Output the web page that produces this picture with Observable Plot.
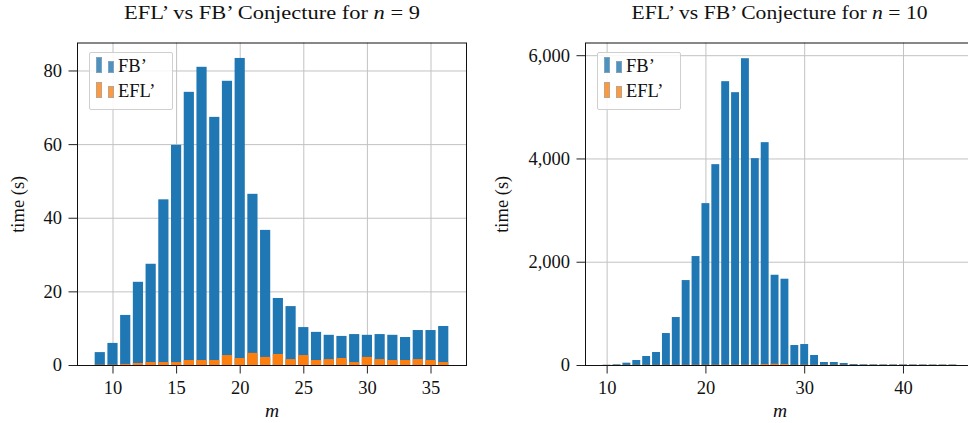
<!DOCTYPE html>
<html>
<head>
<meta charset="utf-8">
<script src="https://cdn.jsdelivr.net/npm/d3@7"></script>
<script src="https://cdn.jsdelivr.net/npm/@observablehq/plot@0.6"></script>
<style>
html, body { margin: 0; padding: 0; background: #fff; }
#wrap { position: relative; width: 968px; height: 423px; overflow: hidden; font-family: "Liberation Serif", serif; color: #111; }
#wrap svg, #wrap svg text { font-family: "Liberation Serif", serif !important; }
.panel { position: absolute; top: 0; max-width: none !important; }
.title { position: absolute; top: 3px; font-size: 18.5px; white-space: nowrap; transform-origin: center; }
.legend { position: absolute; border: 1px solid #cfcfcf; border-radius: 2px; background: rgba(255,255,255,0.85); box-sizing: border-box; }
.hd { position: absolute; box-sizing: border-box; border: 1px solid rgba(160,170,180,0.7); }
.lt { position: absolute; font-size: 18.5px; line-height: 1; white-space: nowrap; }
</style>
</head>
<body>
<div id="wrap"></div>
<script>
// ---- data: n = 9 ----
const m9 = [9,10,11,12,13,14,15,16,17,18,19,20,21,22,23,24,25,26,27,28,29,30,31,32,33,34,35,36];
const fb9 = [3.5,6.0,13.6,22.6,27.5,45.0,59.8,74.2,81.0,67.4,77.2,83.4,46.5,36.7,18.2,16.0,10.3,9.0,8.2,7.9,8.4,8.2,8.4,8.2,7.6,9.5,9.5,10.6];
const efl9 = [0.1,0.1,0.3,0.55,0.8,0.8,0.8,1.35,1.35,1.35,2.7,1.9,3.3,2.2,3.0,1.6,2.7,1.35,1.6,1.9,0.8,2.2,1.6,1.35,1.35,1.6,1.35,0.8];
const xTicks9 = [10,15,20,25,30,35];
const yTicks9 = [0,20,40,60,80];

// ---- data: n = 10 ----
const m10 = [10,11,12,13,14,15,16,17,18,19,20,21,22,23,24,25,26,27,28,29,30,31,32,33,34,35,36,37,38,39,40,41,42,43,44,45];
const fb10 = [4,13,45,97,174,252,619,929,1645,2110,3135,3890,5497,5284,5942,4006,4316,1748,1671,387,406,194,58,58,39,19,14,13,12,12,12,11,11,10,10,10];
const efl10 = [3,3,3,4,4,4,5,5,5,6,6,7,7,7,8,8,20,25,20,6,6,5,5,5,4,4,4,4,4,4,4,4,4,4,4,4];
const xTicks10 = [10,20,30,40];
const yTicks10 = [0,2000,4000,6000];

const seriesNames = ["FB’", "EFL’"];
const colors = ["#1f77b4", "#ff7f0e"];
const legendColors = ["rgba(31,119,180,0.8)", "rgba(255,127,14,0.8)"];

const FONT = "'Liberation Serif', serif";
const wrap = document.getElementById("wrap");

function panel({m, fb, efl, xDomain, yDomain, xTicks, yTicks, fmt, left, width, marginLeft, marginRight, labelOffset}) {
  const data = m.map((v, i) => ({m: v, fb: fb[i], efl: efl[i]}));
  const halfW = 0.4;
  const svg = Plot.plot({
    width, height: 423,
    marginLeft, marginRight, marginTop: 42.5, marginBottom: 58,
    style: {fontFamily: FONT, fontSize: "18.5px", color: "#111", background: "transparent", overflow: "visible"},
    x: {domain: xDomain},
    y: {domain: yDomain},
    marks: [
      Plot.gridX(xTicks, {stroke: "#c2c2c2", strokeOpacity: 1, strokeWidth: 1}),
      Plot.gridY(yTicks, {stroke: "#c2c2c2", strokeOpacity: 1, strokeWidth: 1}),
      Plot.rect(data, {x1: d => d.m - halfW, x2: d => d.m + halfW, y1: 0, y2: "fb", fill: colors[0]}),
      Plot.rect(data, {x1: d => d.m - halfW, x2: d => d.m + halfW, y1: 0, y2: "efl", fill: colors[1]}),
      Plot.frame({stroke: "#111", strokeWidth: 1}),
      Plot.axisX(xTicks, {tickSize: 8.5, tickPadding: 7, stroke: "#222", label: null, fontFamily: FONT}),
      Plot.axisY(yTicks, {tickSize: 8.5, tickPadding: 7, stroke: "#222", tickFormat: fmt, label: "time (s)", labelAnchor: "center", labelArrow: "none", labelOffset, fontFamily: FONT}),
      Plot.text(["m"], {frameAnchor: "bottom", dy: 45, fontStyle: "italic", fontSize: 19.5, fontFamily: FONT, lineAnchor: "middle", text: d => d})
    ]
  });
  svg.setAttribute("font-family", FONT);
  svg.querySelectorAll("text, g").forEach(el => { el.style.fontFamily = FONT; });
  svg.classList.add("panel");
  svg.style.left = left + "px";
  wrap.appendChild(svg);
}

panel({m: m9, fb: fb9, efl: efl9, xDomain: [7.21, 37.79], yDomain: [0, 87.6], xTicks: xTicks9, yTicks: yTicks9,
  fmt: d3.format("d"), left: 0, width: 484, marginLeft: 77, marginRight: 18, labelOffset: 67});
panel({m: m10, fb: fb10, efl: efl10, xDomain: [7.81, 47.19], yDomain: [0, 6246], xTicks: xTicks10, yTicks: yTicks10,
  fmt: d3.format(","), left: 484, width: 500, marginLeft: 101, marginRight: 10, labelOffset: 91});

function title(n, cx, target) {
  const t = document.createElement("div");
  t.className = "title";
  t.innerHTML = `EFL’ vs FB’ Conjecture for <i>n</i> = ${n}`;
  wrap.appendChild(t);
  const w = t.getBoundingClientRect().width;
  const s = target / w;
  t.style.left = (cx - w / 2) + "px";
  t.style.transform = `scaleX(${s})`;
}
title(9, 271.5, 296);
title(10, 779.5, 296);

function legend(x, y) {
  const box = document.createElement("div");
  box.className = "legend";
  box.style.left = x + "px"; box.style.top = y + "px";
  box.style.width = "84px"; box.style.height = "58px";
  seriesNames.forEach((name, i) => {
    const oy = i * 24.5;
    const h1 = document.createElement("div");
    h1.className = "hd";
    Object.assign(h1.style, {left: "6px", top: (4 + oy) + "px", width: "6px", height: "16px", background: legendColors[i]});
    const h2 = document.createElement("div");
    h2.className = "hd";
    Object.assign(h2.style, {left: "18px", top: (8 + oy) + "px", width: "6px", height: "12px", background: legendColors[i]});
    const lt = document.createElement("div");
    lt.className = "lt";
    lt.textContent = name;
    Object.assign(lt.style, {left: "28px", top: (4 + oy) + "px"});
    box.appendChild(h1); box.appendChild(h2); box.appendChild(lt);
  });
  wrap.appendChild(box);
}
legend(89, 52);
legend(597, 52);
</script>
</body>
</html>
